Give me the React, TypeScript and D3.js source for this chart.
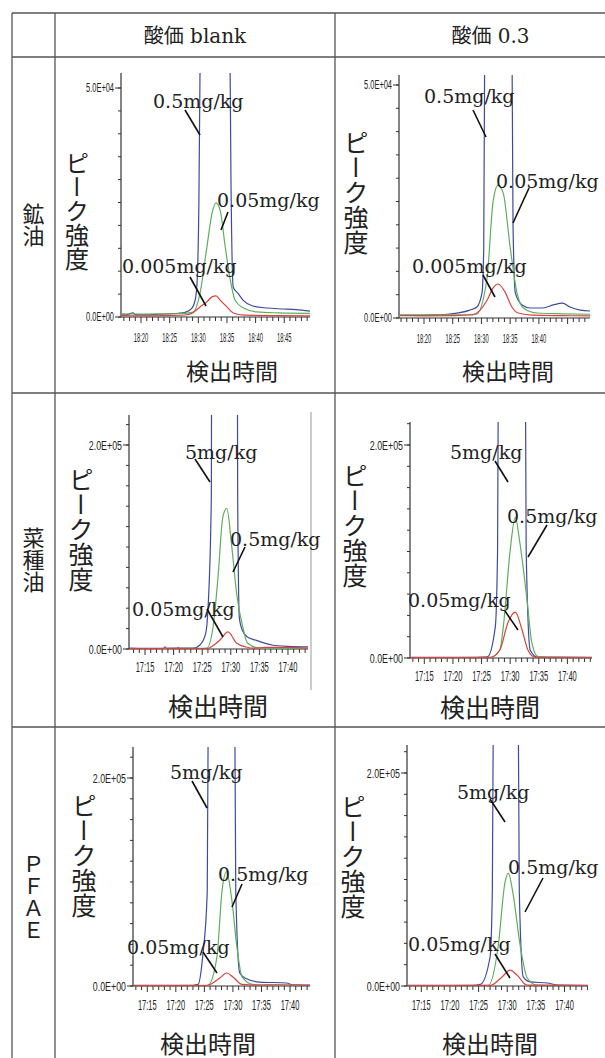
import React from 'react';
import * as d3 from 'd3';

type Pt = [number, number];

// ---------- text content ----------
const columnHeaders = ['酸価 blank', '酸価 0.3'];
const rowLabels = ['鉱油', '菜種油', 'ＰＦＡＥ'];
const yAxisTitle = 'ピーク強度';
const xAxisTitle = '検出時間';
const oilConcLabels = ['0.5mg/kg', '0.05mg/kg', '0.005mg/kg'];
const fatConcLabels = ['5mg/kg', '0.5mg/kg', '0.05mg/kg'];
const oilYTickLabels = ['0.0E+00', '5.0E+04'];
const oilYTickValues = [0, 50000];
const fatYTickLabels = ['0.0E+00', '2.0E+05'];
const fatYTickValues = [0, 200000];

// x tick labels (hh:mm)
const oilBlankXTicks = ['18:20', '18:25', '18:30', '18:35', '18:40', '18:45'];
const oilAcidXTicks = ['18:20', '18:25', '18:30', '18:35', '18:40'];
const fatXTicks = ['17:15', '17:20', '17:25', '17:30', '17:35', '17:40'];

// ---------- series: [minute of hour, intensity] ----------
// 鉱油 / 酸価 blank (18:xx)
const oilBlankBlue: Pt[] = [[16.5, 500], [17.5, 450], [18.2, 800], [18.6, 900], [19.0, 500], [21, 450], [23, 600], [25, 700], [26.5, 800], [27.7, 1000], [28.9, 1960], [29.5, 4000], [29.8, 8000], [30.1, 25000], [30.4, 70000], [31, 180000], [32.8, 260000], [34.8, 170000], [35.4, 80000], [35.7, 30000], [36.1, 6500], [36.9, 5200], [37.8, 3700], [39.5, 2400], [42, 1960], [44.8, 1750], [47, 1600], [49.5, 1300]];
const oilBlankGreen: Pt[] = [[16.5, 700], [20, 650], [24, 700], [27, 750], [29.1, 1100], [30.3, 5200], [31.5, 15300], [32.4, 22700], [33.1, 24900], [33.8, 23400], [34.7, 15300], [35.5, 8700], [36.4, 3700], [37.8, 2000], [40.2, 1100], [44, 900], [49.5, 800]];
const oilBlankRed: Pt[] = [[16.5, 300], [20, 250], [24, 300], [27.7, 440], [29, 900], [30.3, 2200], [31.5, 3300], [32.4, 4400], [33.1, 4600], [33.8, 3700], [35, 2200], [36.1, 870], [38, 400], [44, 300], [49.5, 250]];

// 鉱油 / 酸価 0.3 (18:xx)
const oilAcidBlue: Pt[] = [[15.65, 600], [18, 550], [21, 650], [24, 800], [26, 1100], [28, 1700], [29.2, 2360], [30.1, 5400], [30.4, 15000], [30.8, 120000], [33, 280000], [35.1, 110000], [35.5, 20000], [35.9, 5400], [37.1, 2800], [38.5, 2150], [40.7, 2150], [42.5, 2800], [44.1, 3200], [45.4, 2360], [47.2, 1700], [48.9, 1500]];
const oilAcidGreen: Pt[] = [[15.65, 700], [20, 650], [25, 700], [28, 700], [29.2, 900], [31, 8800], [32, 24700], [32.9, 28500], [33.8, 26800], [35, 15200], [36.2, 5360], [37.3, 2150], [39.7, 1070], [44, 900], [48.9, 800]];
const oilAcidRed: Pt[] = [[15.65, 500], [20, 450], [25, 500], [28.5, 700], [31, 3860], [32, 6400], [32.9, 7300], [34.1, 5600], [35.3, 2360], [36.4, 1070], [39, 600], [44, 500], [48.9, 450]];

// 菜種油 / 酸価 blank (17:xx)
const rapeBlankBlue: Pt[] = [[12.2, 800], [15, 700], [20, 800], [23.5, 900], [24.6, 3900], [25.6, 15000], [26.0, 38000], [26.6, 150000], [26.9, 1000000], [29, 1300000], [30.9, 1000000], [31.2, 150000], [31.5, 30000], [32.0, 18600], [32.9, 11800], [34.3, 8800], [37.2, 3900], [40, 2500], [43.5, 2000]];
const rapeBlankGreen: Pt[] = [[12.2, 500], [18, 500], [24, 600], [25.8, 1000], [26.9, 21600], [27.8, 73000], [28.6, 129000], [29.3, 138000], [30.1, 104000], [31.1, 51000], [32.1, 21600], [32.9, 5900], [35, 1000], [40, 700], [43.5, 600]];
const rapeBlankRed: Pt[] = [[12.2, 300], [18.2, 300], [18.5, 2000], [18.8, 300], [20.6, 300], [20.8, 1500], [21.0, 300], [25.8, 500], [28.1, 8800], [29.5, 16700], [31, 5900], [32.7, 2000], [34, 800], [36, 1500], [40, 1500], [43.5, 800]];

// 菜種油 / 酸価 0.3 (17:xx)
const rapeAcidBlue: Pt[] = [[12.5, 500], [18, 500], [24, 600], [26.0, 1000], [27.4, 29000], [27.8, 100000], [28.2, 600000], [30.4, 1200000], [32.4, 600000], [32.8, 100000], [33.5, 7500], [34.7, 1000], [38, 800], [44.3, 600]];
const rapeAcidGreen: Pt[] = [[12.5, 400], [20, 400], [26.5, 600], [28.2, 7500], [28.8, 29000], [30, 101000], [30.9, 132000], [31.7, 108000], [33, 52000], [33.8, 14000], [34.9, 1000], [38, 500], [44.3, 400]];
const rapeAcidRed: Pt[] = [[12.5, 300], [20, 300], [26.5, 400], [28.2, 7500], [29.6, 33000], [30.9, 43000], [32.1, 26000], [33.1, 7500], [34.4, 600], [38, 300], [44.3, 300]];

// PFAE / 酸価 blank (17:xx)
const pfaeBlankBlue: Pt[] = [[12.5, 600], [18, 600], [23, 700], [23.9, 1500], [24.7, 28000], [25.5, 90000], [26.0, 600000], [28, 1200000], [30, 600000], [30.5, 90000], [31.2, 12500], [32.1, 7700], [34.7, 3800], [39.4, 2900], [40.5, 1000], [43.5, 800]];
const pfaeBlankGreen: Pt[] = [[12.5, 400], [20, 400], [25.6, 600], [27.2, 28000], [28.1, 92000], [28.9, 110000], [29.8, 83000], [30.7, 37500], [31.6, 8700], [33.5, 1500], [37, 800], [43.5, 500]];
const pfaeBlankRed: Pt[] = [[12.5, 300], [20, 300], [25.4, 500], [27.7, 7700], [28.9, 12500], [30, 8700], [31.6, 1500], [34, 800], [38, 1200], [43.5, 600]];

// PFAE / 酸価 0.3 (17:xx)
const pfaeAcidBlue: Pt[] = [[12.5, 500], [18, 500], [24, 600], [25.3, 1500], [27.0, 27000], [27.4, 90000], [27.9, 600000], [29.8, 1200000], [31.6, 600000], [32.1, 90000], [32.8, 8500], [34.0, 3800], [37, 2800], [38.9, 800], [44.1, 600]];
const pfaeAcidGreen: Pt[] = [[12.5, 400], [20, 400], [26.7, 600], [28.4, 36600], [29.6, 97000], [30.2, 106000], [31.0, 87000], [32.3, 36600], [33.5, 7500], [35.2, 800], [44.1, 400]];
const pfaeAcidRed: Pt[] = [[12.5, 300], [20, 300], [27, 500], [29.1, 8500], [30.5, 15000], [31.7, 10300], [33.5, 800], [44.1, 300]];

// ---------- layout ----------
const W = 605;
const H = 1058;
const TABLE = { left: 12, col1: 55, col2: 335, right: 604, top: 13, head: 57, rows: [393, 727, 1066] };

const COLORS = { blue: '#3d4b9e', green: '#5fae5f', red: '#d9443e', axis: '#333', ink: '#222', rule: '#555' };
const SERIF = "'DejaVu Serif', 'Liberation Serif', serif";
const CJK = "'Noto Sans CJK JP', 'Noto Sans CJK SC', sans-serif";
const SANS = "'Liberation Sans', Arial, sans-serif";

interface Ann { tx: number; ty: number; l: [number, number, number, number] }
interface Panel {
  id: string;
  series: Pt[][];
  concs: string[];
  xTicks: string[];
  yTickValues: number[];
  yTickLabels: string[];
  yStep: number;
  x0: number; x1: number; t0: number; t1: number;
  yZero: number; yLab: number; yTop: number;
  tickY: number; tickFs: number; tickSx: number; yTickFs: number; yTickSx: number;
  xTitle: [number, number, number];
  yTitle: [number, number, number];
  anns: Ann[];
  frame?: [number, number, number];
}

const panels: Panel[] = [
  {
    id: 'a', series: [oilBlankBlue, oilBlankGreen, oilBlankRed], concs: oilConcLabels, xTicks: oilBlankXTicks,
    yTickValues: oilYTickValues, yTickLabels: oilYTickLabels, yStep: 5000,
    x0: 121, x1: 310, t0: 16.5, t1: 49.5, yZero: 317, yLab: 88, yTop: 73,
    tickY: 337, tickFs: 13, tickSx: 0.45, yTickFs: 12, yTickSx: 0.62,
    xTitle: [232, 370, 23], yTitle: [77, 211, 24],
    anns: [
      { tx: 153, ty: 108, l: [185, 110, 200, 135] },
      { tx: 217, ty: 207, l: [228, 212, 221, 230] },
      { tx: 122, ty: 273, l: [190, 277, 206, 306] },
    ],
  },
  {
    id: 'b', series: [oilAcidBlue, oilAcidGreen, oilAcidRed], concs: oilConcLabels, xTicks: oilAcidXTicks,
    yTickValues: oilYTickValues, yTickLabels: oilYTickLabels, yStep: 5000,
    x0: 399, x1: 590, t0: 15.65, t1: 48.9, yZero: 318, yLab: 85, yTop: 75,
    tickY: 338, tickFs: 13, tickSx: 0.45, yTickFs: 12, yTickSx: 0.62,
    xTitle: [508, 370, 23], yTitle: [356, 192, 25],
    anns: [
      { tx: 424, ty: 103, l: [473, 110, 486, 137] },
      { tx: 496, ty: 188, l: [529, 188, 513, 223] },
      { tx: 412, ty: 273, l: [483, 275, 495, 297] },
    ],
  },
  {
    id: 'c', series: [rapeBlankBlue, rapeBlankGreen, rapeBlankRed], concs: fatConcLabels, xTicks: fatXTicks,
    yTickValues: fatYTickValues, yTickLabels: fatYTickLabels, yStep: 20000,
    x0: 129, x1: 308, t0: 12.2, t1: 43.5, yZero: 649, yLab: 445, yTop: 415,
    tickY: 667, tickFs: 15, tickSx: 0.5, yTickFs: 13, yTickSx: 0.68,
    xTitle: [218, 705, 25], yTitle: [81, 529, 25],
    anns: [
      { tx: 185, ty: 459, l: [195, 459, 210, 482] },
      { tx: 230, ty: 546, l: [245, 547, 233, 572] },
      { tx: 132, ty: 616, l: [207, 609, 223, 637] },
    ],
    frame: [311, 412, 690],
  },
  {
    id: 'd', series: [rapeAcidBlue, rapeAcidGreen, rapeAcidRed], concs: fatConcLabels, xTicks: fatXTicks,
    yTickValues: fatYTickValues, yTickLabels: fatYTickLabels, yStep: 20000,
    x0: 410, x1: 592, t0: 12.5, t1: 44.3, yZero: 658, yLab: 445, yTop: 422,
    tickY: 676, tickFs: 15, tickSx: 0.5, yTickFs: 13, yTickSx: 0.68,
    xTitle: [490, 706, 25], yTitle: [355, 525, 25],
    anns: [
      { tx: 450, ty: 459, l: [495, 461, 508, 482] },
      { tx: 507, ty: 523, l: [547, 525, 528, 557] },
      { tx: 408, ty: 607, l: [505, 611, 518, 630] },
    ],
  },
  {
    id: 'e', series: [pfaeBlankBlue, pfaeBlankGreen, pfaeBlankRed], concs: fatConcLabels, xTicks: fatXTicks,
    yTickValues: fatYTickValues, yTickLabels: fatYTickLabels, yStep: 20000,
    x0: 133, x1: 310, t0: 12.5, t1: 43.5, yZero: 986, yLab: 778, yTop: 747,
    tickY: 1005, tickFs: 15, tickSx: 0.5, yTickFs: 13, yTickSx: 0.68,
    xTitle: [208, 1042, 24], yTitle: [84, 855, 25],
    anns: [
      { tx: 170, ty: 779, l: [192, 781, 207, 808] },
      { tx: 218, ty: 881, l: [242, 884, 232, 907] },
      { tx: 127, ty: 954, l: [203, 952, 217, 973] },
    ],
  },
  {
    id: 'f', series: [pfaeAcidBlue, pfaeAcidGreen, pfaeAcidRed], concs: fatConcLabels, xTicks: fatXTicks,
    yTickValues: fatYTickValues, yTickLabels: fatYTickLabels, yStep: 20000,
    x0: 407, x1: 588, t0: 12.5, t1: 44.1, yZero: 986, yLab: 773, yTop: 745,
    tickY: 1005, tickFs: 15, tickSx: 0.5, yTickFs: 13, yTickSx: 0.68,
    xTitle: [490, 1042, 24], yTitle: [353, 856, 25],
    anns: [
      { tx: 457, ty: 799, l: [490, 799, 505, 822] },
      { tx: 508, ty: 874, l: [543, 878, 525, 912] },
      { tx: 408, ty: 951, l: [495, 954, 510, 978] },
    ],
  },
];

const seriesColors = [COLORS.blue, COLORS.green, COLORS.red];

function ChromPanel({ p }: { p: Panel }) {
  const x = d3.scaleLinear().domain([p.t0, p.t1]).range([p.x0, p.x1]);
  const y = d3.scaleLinear().domain([0, p.yTickValues[1]]).range([p.yZero, p.yLab]);
  const yMax = y.invert(p.yTop);
  const line = d3.line<Pt>().x(d => x(d[0])).y(d => y(d[1])).curve(d3.curveMonotoneX);
  const minorX = d3.range(Math.ceil(p.t0), Math.floor(p.t1) + 1);
  const minorY = d3.range(0, yMax + 1, p.yStep);
  const labelMinutes = p.xTicks.map(s => +s.split(':')[1]);
  const clipId = `clip-${p.id}`;
  return (
    <g>
      <defs>
        <clipPath id={clipId}>
          <rect x={p.x0 + 1} y={p.yTop} width={p.x1 - p.x0 - 1} height={p.yZero - p.yTop + 3} />
        </clipPath>
      </defs>
      {p.frame && (
        <line x1={p.frame[0]} x2={p.frame[0]} y1={p.frame[1]} y2={p.frame[2]} stroke="#999" strokeWidth={1} />
      )}
      {/* y axis */}
      <line x1={p.x0} x2={p.x0} y1={p.yTop} y2={p.yZero} stroke={COLORS.axis} strokeWidth={1.2} />
      {minorY.map(v => (
        <line key={`yt${v}`} x1={p.x0 - 3} x2={p.x0} y1={y(v)} y2={y(v)} stroke={COLORS.axis} strokeWidth={1} />
      ))}
      {p.yTickValues.map((v, i) => (
        <g key={`yl${v}`}>
          <line x1={p.x0 - 6} x2={p.x0} y1={y(v)} y2={y(v)} stroke={COLORS.axis} strokeWidth={1} />
          <text transform={`translate(${p.x0 - 7},${y(v)}) scale(${p.yTickSx},1)`} textAnchor="end"
            dominantBaseline="central" fontFamily={SANS} fontSize={p.yTickFs} fill={COLORS.ink}>{p.yTickLabels[i]}</text>
        </g>
      ))}
      {/* x axis */}
      <line x1={p.x0} x2={p.x1} y1={p.yZero} y2={p.yZero} stroke={COLORS.axis} strokeWidth={1.2} />
      {minorX.map(t => (
        <line key={`xt${t}`} x1={x(t)} x2={x(t)} y1={p.yZero} y2={p.yZero + (t % 5 === 0 ? 6 : 4)} stroke={COLORS.axis} strokeWidth={1} />
      ))}
      {p.xTicks.map((s, i) => (
        <text key={s} transform={`translate(${x(labelMinutes[i])},${p.tickY}) scale(${p.tickSx},1)`} textAnchor="middle"
          dominantBaseline="central" fontFamily={SANS} fontSize={p.tickFs} fill={COLORS.ink}>{s}</text>
      ))}
      {/* series */}
      <g clipPath={`url(#${clipId})`}>
        {p.series.map((s, i) => (
          <path key={i} d={line(s) || ''} fill="none" stroke={seriesColors[i]} strokeWidth={1.2} />
        ))}
      </g>
      {/* annotations */}
      {p.anns.map((a, i) => (
        <g key={`an${i}`}>
          <text x={a.tx} y={a.ty} fontFamily={SERIF} fontSize={19} fill={COLORS.ink}>{p.concs[i]}</text>
          <line x1={a.l[0]} y1={a.l[1]} x2={a.l[2]} y2={a.l[3]} stroke="#111" strokeWidth={1.6} />
        </g>
      ))}
      {/* axis titles */}
      <text x={p.xTitle[0]} y={p.xTitle[1]} textAnchor="middle" dominantBaseline="central" fontFamily={CJK}
        fontSize={p.xTitle[2]} fill={COLORS.ink}>{xAxisTitle}</text>
      <text x={p.yTitle[0]} y={p.yTitle[1]} textAnchor="middle" fontFamily={CJK} fontSize={p.yTitle[2]} fill={COLORS.ink}
        style={{ writingMode: 'vertical-rl' }}>{yAxisTitle}</text>
    </g>
  );
}

export default function App() {
  const colCenters = [(TABLE.col1 + TABLE.col2) / 2, (TABLE.col2 + TABLE.right + 42) / 2];
  const rowTops = [TABLE.head, TABLE.rows[0], TABLE.rows[1]];
  return (
    <svg width={W} height={H} viewBox={`0 0 ${W} ${H}`}
      style={{ position: 'absolute', left: 0, top: 0, background: '#fff' }}>
      <rect x={0} y={0} width={W} height={H} fill="#fff" />
      {/* table rules */}
      <g stroke={COLORS.rule} strokeWidth={1.3}>
        <line x1={TABLE.left} x2={TABLE.right + 2} y1={TABLE.top} y2={TABLE.top} />
        <line x1={TABLE.left} x2={TABLE.right + 2} y1={TABLE.head} y2={TABLE.head} />
        {TABLE.rows.map(r => (
          <line key={r} x1={TABLE.left} x2={TABLE.right + 2} y1={r} y2={r} />
        ))}
        <line x1={TABLE.left} x2={TABLE.left} y1={TABLE.top} y2={TABLE.rows[2]} />
        <line x1={TABLE.col1} x2={TABLE.col1} y1={TABLE.top} y2={TABLE.rows[2]} />
        <line x1={TABLE.col2} x2={TABLE.col2} y1={TABLE.top} y2={TABLE.rows[2]} />
      </g>
      {columnHeaders.map((h, i) => (
        <text key={h} x={colCenters[i]} y={36} textAnchor="middle" dominantBaseline="central"
          fontFamily={`${SERIF.split(',')[0]}, ${CJK}`} fontSize={20} fill={COLORS.ink}>{h}</text>
      ))}
      {rowLabels.map((r, i) => (
        <text key={r} x={(TABLE.left + TABLE.col1) / 2} y={(rowTops[i] + TABLE.rows[i]) / 2} textAnchor="middle"
          fontFamily={CJK} fontSize={22} fill={COLORS.ink} style={{ writingMode: 'vertical-rl' }}>{r}</text>
      ))}
      {panels.map(p => <ChromPanel key={p.id} p={p} />)}
    </svg>
  );
}
